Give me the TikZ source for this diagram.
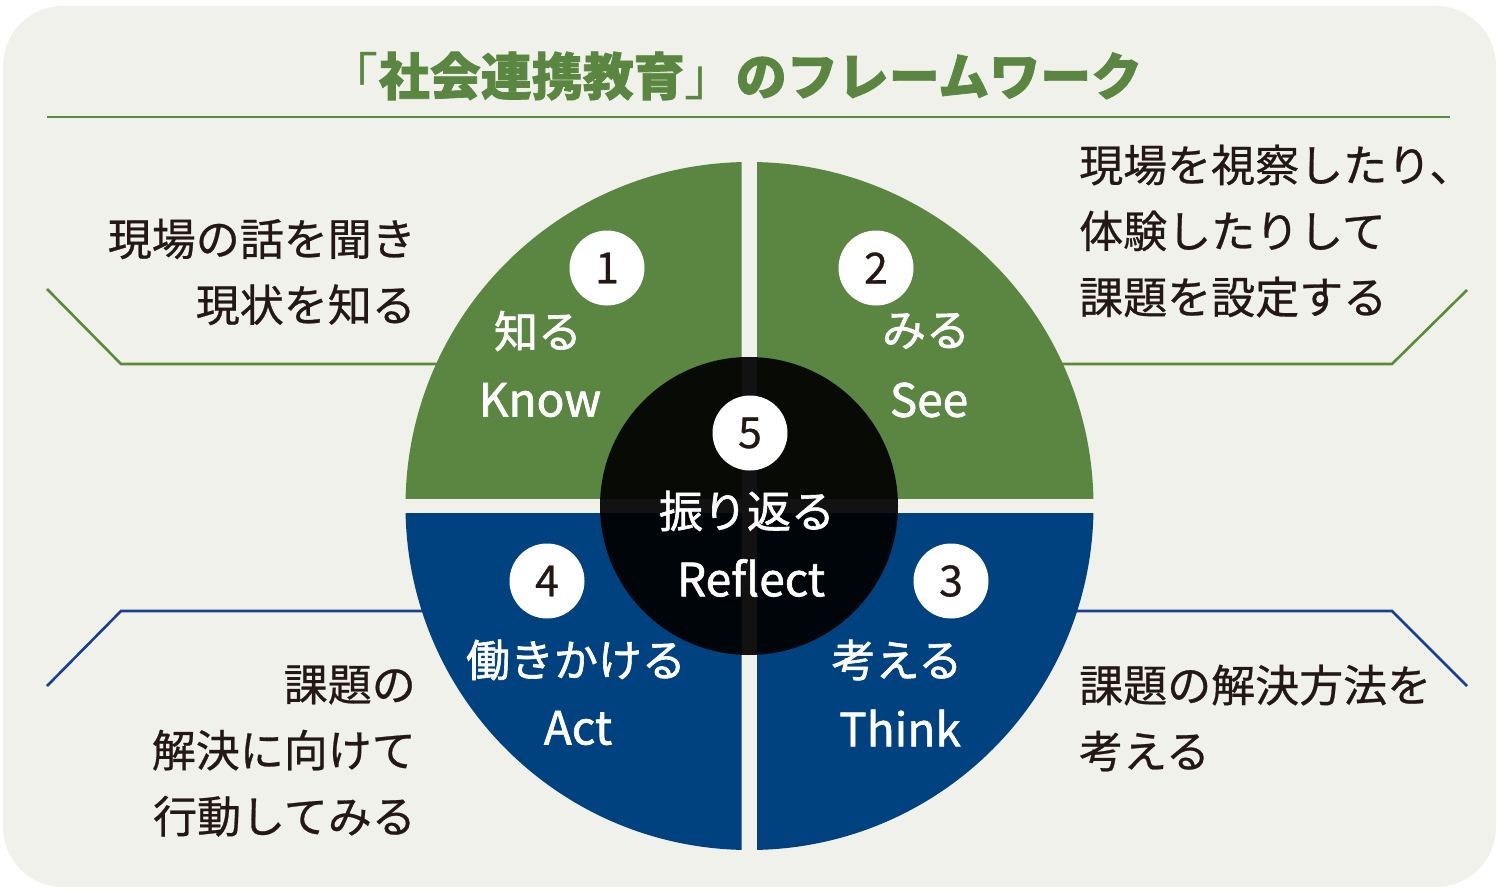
\documentclass[tikz,border=0pt]{standalone}
\usepackage{fontspec}
\setmainfont{Noto Sans CJK JP}
\newfontfamily\sidefont[FakeBold=0.6]{Noto Sans CJK JP}
\newfontfamily\labelfont[FakeBold=1.4]{Noto Sans CJK JP}
\newfontfamily\titlefont[BoldFeatures={FakeBold=1.4}]{Noto Sans CJK JP}
\newfontfamily\bracketfont{Noto Sans CJK JP}
\definecolor{bgc}{HTML}{F0F1EA}
\definecolor{qgreen}{HTML}{5A8642}
\definecolor{qblue}{HTML}{00427F}
\definecolor{lgreen}{HTML}{5A8A3C}
\definecolor{lblue}{HTML}{1B3F8C}
\definecolor{ink}{HTML}{231815}
\tikzset{
  gline/.style={draw=lgreen, line width=2.6pt},
  bline/.style={draw=lblue, line width=2.6pt},
  numcirc/.style={circle, fill=white, minimum size=75pt, inner sep=0pt, text=ink, font=\sidefont\fontsize{43}{43}\selectfont},
  jlabel/.style={inner sep=0pt, text=white, font=\labelfont\fontsize{44}{44}\selectfont},
  elabel/.style={inner sep=0pt, text=white, font=\labelfont\fontsize{46}{46}\selectfont},
  sidetext/.style={inner sep=0pt, text=ink, font=\sidefont\fontsize{44}{66}\selectfont},
}
\begin{document}
\begin{tikzpicture}[x=1pt,y=-1pt]
\useasboundingbox (0,0) rectangle (1500,891);
\fill[bgc, rounded corners=60pt] (3,6) rectangle (1496,887);

% title
\node[inner sep=0pt, text=qgreen, font=\titlefont\bfseries\fontsize{51}{51}\selectfont] (title) at (735,76) {{\bracketfont\mdseries 「}社会連携教育{\bracketfont\mdseries 」}のフレームワーク};
\coordinate (tl) at (47,117);
\coordinate (tr) at (1450,117);
\draw[gline] (tl) -- (tr);

% side lines
\coordinate (g1a) at (47,289);
\coordinate (g1b) at (121,364);
\coordinate (g1c) at (460,364);
\coordinate (g2a) at (1467,290);
\coordinate (g2b) at (1392,364);
\coordinate (g2c) at (1040,364);
\coordinate (b1a) at (47,686);
\coordinate (b1b) at (121,611);
\coordinate (b1c) at (450,611);
\coordinate (b2a) at (1467,686);
\coordinate (b2b) at (1392,611);
\coordinate (b2c) at (1050,611);
\draw[gline, line join=miter] (g1a) -- (g1b) -- (g1c);
\draw[gline, line join=miter] (g2a) -- (g2b) -- (g2c);
\draw[bline, line join=miter] (b1a) -- (b1b) -- (b1c);
\draw[bline, line join=miter] (b2a) -- (b2b) -- (b2c);

% quadrants
\coordinate (ctr) at (749.5,506);
\begin{scope}
  \clip (0,0) rectangle (741.5,498.5);
  \fill[qgreen] (ctr) circle (344pt);
\end{scope}
\begin{scope}
  \clip (757,0) rectangle (1500,498.5);
  \fill[qgreen] (ctr) circle (344pt);
\end{scope}
\begin{scope}
  \clip (0,513.5) rectangle (741.5,891);
  \fill[qblue] (ctr) circle (344pt);
\end{scope}
\begin{scope}
  \clip (757,513.5) rectangle (1500,891);
  \fill[qblue] (ctr) circle (344pt);
\end{scope}

% centre circle
\fill[black, opacity=0.92] (749,506) circle (149pt);

% numbers
\node[numcirc] (n1) at (607,268) {1};
\node[numcirc] (n2) at (876,268) {2};
\node[numcirc] (n3) at (951,581) {3};
\node[numcirc] (n4) at (547,581) {4};
\node[numcirc] (n5) at (750,433) {5};

% quadrant labels
\node[jlabel] (k1) at (538,331) {知る};
\node[elabel] (k2) at (540,400) {Know};
\node[jlabel] (s1) at (926,331) {みる};
\node[elabel] (s2) at (929,400) {See};
\node[jlabel] (t1) at (897,660) {考える};
\node[elabel] (t2) at (900,728) {Think};
\node[jlabel] (a1) at (576,660) {働きかける};
\node[elabel] (a2) at (578,728) {Act};
\node[jlabel] (r1) at (747,511) {振り返る};
\node[elabel] (r2) at (751,578) {Reflect};

% side texts
\node[sidetext, align=right, anchor=east] (txtk) at (416,272) {現場の話を聞き\\現状を知る};
\node[sidetext, align=left, anchor=west] (txts) at (1079,231) {現場を視察したり、\\体験したりして\\課題を設定する};
\node[sidetext, align=right, anchor=east] (txta) at (416,751) {課題の\\解決に向けて\\行動してみる};
\node[sidetext, align=left, anchor=west] (txtt) at (1079,718) {課題の解決方法を\\考える};
\end{tikzpicture}
\end{document}
